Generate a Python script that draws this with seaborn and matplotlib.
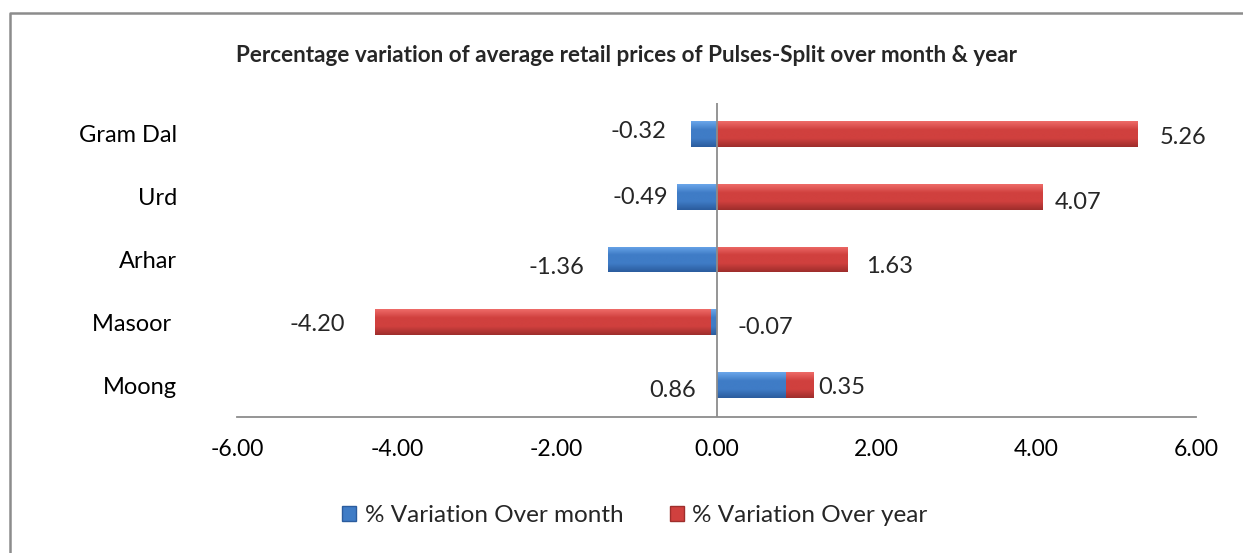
import matplotlib
matplotlib.use("Agg")
import matplotlib.pyplot as plt
import seaborn as sns
import numpy as np
import pandas as pd
from matplotlib.lines import Line2D
from matplotlib.patches import Patch
from matplotlib.colors import LinearSegmentedColormap

# ---------------- data ----------------
categories = ["Gram Dal", "Urd", "Arhar", "Masoor ", "Moong"]
month_var = [-0.32, -0.49, -1.36, -0.07, 0.86]
year_var = [5.26, 4.07, 1.63, -4.20, 0.35]
month_labels = ["-0.32", "-0.49", "-1.36", "-0.07", "0.86"]
year_labels = ["5.26", "4.07", "1.63", "-4.20", "0.35"]
xticks = [-6, -4, -2, 0, 2, 4, 6]
xtick_labels = ["-6.00", "-4.00", "-2.00", "0.00", "2.00", "4.00", "6.00"]
series_names = ["% Variation Over month", "% Variation Over year"]
title = "Percentage variation of average retail prices of Pulses-Split over month & year"

# ---------------- style ----------------
BLUE = "#3F7CC6"
BLUE_LIGHT = "#6AA6EA"
BLUE_DARK = "#2B5C9E"
RED = "#D0403E"
RED_LIGHT = "#EE6B68"
RED_DARK = "#9E2E2C"
GREY = "#8C8C8C"
FS = 17
FS_TICK = 16.5
FS_LEG = 17.5

sns.set_theme(style="white")
plt.rcParams['font.family'] = ['Lato', 'DejaVu Sans']

# Excel-style stacking: year bar continues the month bar if same sign
year_start = [m if m * y > 0 else 0.0 for m, y in zip(month_var, year_var)]
year_end = [s + y for s, y in zip(year_start, year_var)]
bar_end_month = month_var

df = pd.DataFrame({"cat": categories, "month": month_var, "year_end": year_end})

W, H = 1243, 553
fig = plt.figure(figsize=(W / 100, H / 100), dpi=100)
ax = fig.add_axes([237 / W, 1 - 416.5 / H, (1196 - 237) / W, (416.5 - 102.5) / H])

BAR_W = 0.41
sns.barplot(data=df, y="cat", x="year_end", orient="h", color=RED, saturation=1,
            width=BAR_W, errorbar=None, ax=ax, order=categories, zorder=3)
sns.barplot(data=df, y="cat", x="month", orient="h", color=BLUE, saturation=1,
            width=BAR_W, errorbar=None, ax=ax, order=categories, zorder=4)

ax.set_xlim(-6, 6)
ax.set_ylim(4.5, -0.5)

# bevel-like vertical gradients on each bar
n = len(categories)
grad_maps = [LinearSegmentedColormap.from_list("r", [RED_LIGHT, RED, RED, RED_DARK]),
             LinearSegmentedColormap.from_list("b", [BLUE_LIGHT, BLUE, BLUE, BLUE_DARK])]
grad = np.linspace(0, 1, 64).reshape(-1, 1)
for i, p in enumerate(list(ax.patches)):
    cmap = grad_maps[0] if i < n else grad_maps[1]
    x0, y0, w, h = p.get_x(), p.get_y(), p.get_width(), p.get_height()
    p.set_edgecolor("none")
    im = ax.imshow(grad, cmap=cmap, aspect="auto", origin="upper",
                   extent=(min(x0, x0 + w), max(x0, x0 + w), y0 + h, y0),
                   zorder=p.get_zorder() + 0.1, interpolation="bilinear")
    im.set_clip_path(p)
ax.set_xlim(-6, 6)
ax.set_ylim(4.5, -0.5)

# axes styling
for s in ["top", "right", "left"]:
    ax.spines[s].set_visible(False)
ax.spines["bottom"].set_color(GREY)
ax.spines["bottom"].set_linewidth(1.3)
ax.axvline(0, color=GREY, lw=1.3, zorder=5)
ax.set_xticks(xticks)
ax.set_xticklabels(xtick_labels)
ax.tick_params(axis="x", length=0, pad=16, labelsize=FS_TICK, colors="black")
ax.tick_params(axis="y", length=0, pad=43, labelsize=FS, colors="black")
ax.set_xlabel("")
ax.set_ylabel("")
ax.grid(False)

# data labels (pixel offsets relative to bar ends)
month_off = [(-53, -2), (-37, 1), (-51, 8), (54, 5), (-113, 5)]
year_off = [(46, 4), (36, 6), (43, 7), (-58, 2), (29, 2)]
for i in range(n):
    dx, dy = month_off[i]
    ax.annotate(month_labels[i], (bar_end_month[i], i), xytext=(dx * 0.72, -dy * 0.72),
                textcoords="offset points", ha="center", va="center", fontsize=FS)
    dx, dy = year_off[i]
    ax.annotate(year_labels[i], (year_end[i], i), xytext=(dx * 0.72, -dy * 0.72),
                textcoords="offset points", ha="center", va="center", fontsize=FS)

# title
fig.text(627 / W, 1 - 55 / H, title, ha="center", va="center", fontsize=16.2,
         fontweight="bold")

# legend
handles = [Patch(facecolor=BLUE, edgecolor=BLUE_DARK), Patch(facecolor=RED, edgecolor=RED_DARK)]
fig.legend(handles, series_names, loc="center", bbox_to_anchor=(635 / W, 1 - 516 / H),
           ncol=2, frameon=False, fontsize=FS_LEG, handlelength=0.58, handleheight=0.58,
           handletextpad=0.35, columnspacing=1.9)

# outer chart border (top + left visible)
fig.add_artist(Line2D([9.5 / W, 9.5 / W, 1.0], [0.0, 1 - 12.5 / H, 1 - 12.5 / H],
                      transform=fig.transFigure, color=GREY, lw=1.8))

fig.savefig("out.png", dpi=100)
